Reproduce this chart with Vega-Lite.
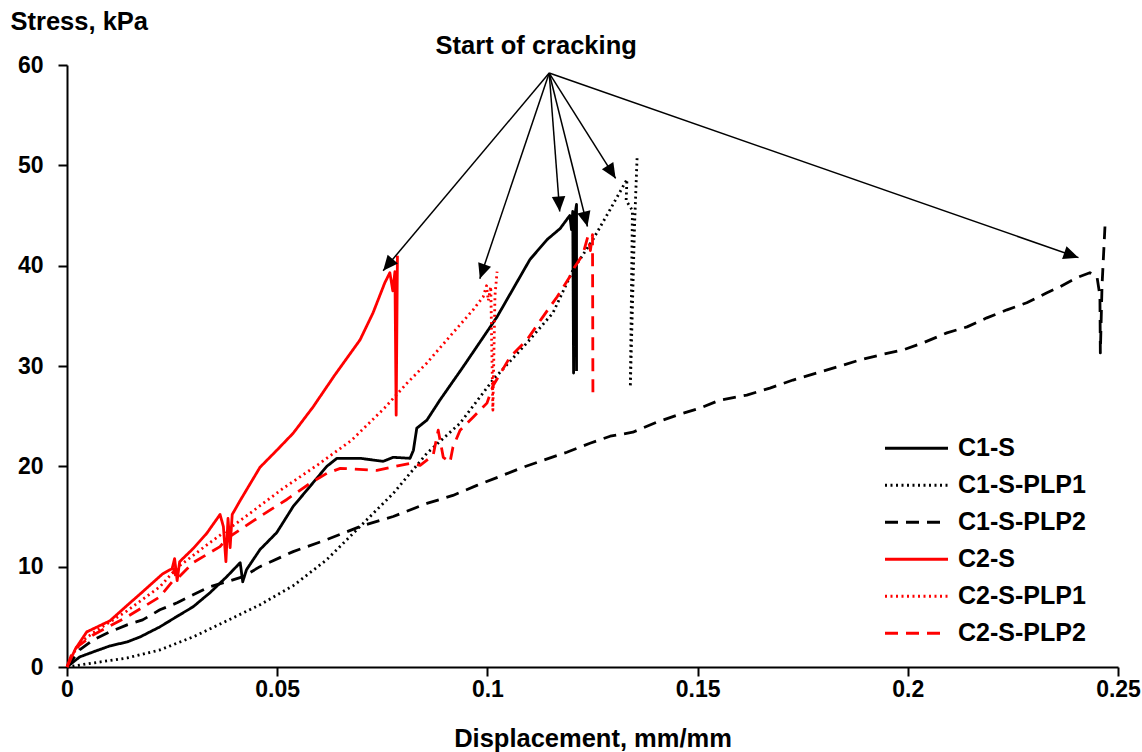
{
  "$schema": "https://vega.github.io/schema/vega-lite/v6.json",
  "width": 1051,
  "height": 602,
  "autosize": "none",
  "padding": {"left": 67, "top": 65, "right": 24, "bottom": 85},
  "background": "white",
  "config": {
    "view": {"stroke": null},
    "font": "Liberation Sans",
    "axis": {"grid": false, "labelFlush": false, "domainColor": "black", "domainWidth": 2, "tickColor": "black", "tickWidth": 2, "tickSize": 9, "labelFont": "Liberation Sans", "labelFontWeight": "bold", "labelFontSize": 23, "labelColor": "black", "titleFont": "Liberation Sans", "titleFontWeight": "bold", "titleFontSize": 25.5, "titleColor": "black"}
  },
  "datasets": {
    "curves": [
      {"s": "C1-S", "x": 0, "y": 0}, {"s": "C1-S", "x": 0.003, "y": 1.0}, {"s": "C1-S", "x": 0.0062, "y": 1.5}, {"s": "C1-S", "x": 0.0102, "y": 2.1}, {"s": "C1-S", "x": 0.0143, "y": 2.5}, {"s": "C1-S", "x": 0.0174, "y": 3.0}, {"s": "C1-S", "x": 0.0221, "y": 4.0}, {"s": "C1-S", "x": 0.026, "y": 5.0}, {"s": "C1-S", "x": 0.030, "y": 6.0}, {"s": "C1-S", "x": 0.034, "y": 7.4}, {"s": "C1-S", "x": 0.038, "y": 9.0}, {"s": "C1-S", "x": 0.0412, "y": 10.4}, {"s": "C1-S", "x": 0.0418, "y": 8.5}, {"s": "C1-S", "x": 0.0427, "y": 9.7}, {"s": "C1-S", "x": 0.0459, "y": 11.7}, {"s": "C1-S", "x": 0.0499, "y": 13.4}, {"s": "C1-S", "x": 0.0538, "y": 16.0}, {"s": "C1-S", "x": 0.0578, "y": 18.0}, {"s": "C1-S", "x": 0.0618, "y": 20.0}, {"s": "C1-S", "x": 0.0642, "y": 20.8}, {"s": "C1-S", "x": 0.0697, "y": 20.8}, {"s": "C1-S", "x": 0.0752, "y": 20.5}, {"s": "C1-S", "x": 0.0776, "y": 20.9}, {"s": "C1-S", "x": 0.0816, "y": 20.8}, {"s": "C1-S", "x": 0.0824, "y": 21.6}, {"s": "C1-S", "x": 0.0832, "y": 23.8}, {"s": "C1-S", "x": 0.0856, "y": 24.6}, {"s": "C1-S", "x": 0.0887, "y": 26.6}, {"s": "C1-S", "x": 0.0942, "y": 29.9}, {"s": "C1-S", "x": 0.1023, "y": 34.9}, {"s": "C1-S", "x": 0.1101, "y": 40.6}, {"s": "C1-S", "x": 0.1142, "y": 42.6}, {"s": "C1-S", "x": 0.1173, "y": 43.7}, {"s": "C1-S", "x": 0.1196, "y": 45.0}, {"s": "C1-S", "x": 0.1200, "y": 43.6}, {"s": "C1-S", "x": 0.1203, "y": 45.4}, {"s": "C1-S", "x": 0.1205, "y": 29.3}, {"s": "C1-S", "x": 0.1208, "y": 45.0}, {"s": "C1-S", "x": 0.1212, "y": 46.1}, {"s": "C1-S", "x": 0.1212, "y": 29.5},

      {"s": "C1-S-PLP1", "x": 0, "y": 0}, {"s": "C1-S-PLP1", "x": 0.0062, "y": 0.4}, {"s": "C1-S-PLP1", "x": 0.0143, "y": 0.9}, {"s": "C1-S-PLP1", "x": 0.0221, "y": 1.7}, {"s": "C1-S-PLP1", "x": 0.030, "y": 3.0}, {"s": "C1-S-PLP1", "x": 0.038, "y": 4.6}, {"s": "C1-S-PLP1", "x": 0.0459, "y": 6.2}, {"s": "C1-S-PLP1", "x": 0.0538, "y": 8.1}, {"s": "C1-S-PLP1", "x": 0.0618, "y": 10.7}, {"s": "C1-S-PLP1", "x": 0.0697, "y": 14.0}, {"s": "C1-S-PLP1", "x": 0.0776, "y": 17.3}, {"s": "C1-S-PLP1", "x": 0.0856, "y": 21.3}, {"s": "C1-S-PLP1", "x": 0.0935, "y": 24.3}, {"s": "C1-S-PLP1", "x": 0.1013, "y": 28.6}, {"s": "C1-S-PLP1", "x": 0.1094, "y": 32.3}, {"s": "C1-S-PLP1", "x": 0.1156, "y": 35.3}, {"s": "C1-S-PLP1", "x": 0.1204, "y": 39.6}, {"s": "C1-S-PLP1", "x": 0.1251, "y": 42.6}, {"s": "C1-S-PLP1", "x": 0.1292, "y": 45.6}, {"s": "C1-S-PLP1", "x": 0.1332, "y": 48.6}, {"s": "C1-S-PLP1", "x": 0.1330, "y": 46.5}, {"s": "C1-S-PLP1", "x": 0.1345, "y": 45.5}, {"s": "C1-S-PLP1", "x": 0.1340, "y": 27.9}, {"s": "C1-S-PLP1", "x": 0.1350, "y": 44.0}, {"s": "C1-S-PLP1", "x": 0.1356, "y": 50.7},

      {"s": "C1-S-PLP2", "x": 0, "y": 0}, {"s": "C1-S-PLP2", "x": 0.003, "y": 1.7}, {"s": "C1-S-PLP2", "x": 0.0062, "y": 2.7}, {"s": "C1-S-PLP2", "x": 0.0102, "y": 3.5}, {"s": "C1-S-PLP2", "x": 0.0143, "y": 4.2}, {"s": "C1-S-PLP2", "x": 0.018, "y": 4.7}, {"s": "C1-S-PLP2", "x": 0.0221, "y": 5.7}, {"s": "C1-S-PLP2", "x": 0.0262, "y": 6.4}, {"s": "C1-S-PLP2", "x": 0.030, "y": 7.2}, {"s": "C1-S-PLP2", "x": 0.034, "y": 8.0}, {"s": "C1-S-PLP2", "x": 0.038, "y": 8.5}, {"s": "C1-S-PLP2", "x": 0.0419, "y": 9.0}, {"s": "C1-S-PLP2", "x": 0.0459, "y": 10.0}, {"s": "C1-S-PLP2", "x": 0.0538, "y": 11.5}, {"s": "C1-S-PLP2", "x": 0.0618, "y": 12.7}, {"s": "C1-S-PLP2", "x": 0.0697, "y": 14.0}, {"s": "C1-S-PLP2", "x": 0.0776, "y": 15.0}, {"s": "C1-S-PLP2", "x": 0.0856, "y": 16.3}, {"s": "C1-S-PLP2", "x": 0.0918, "y": 17.1}, {"s": "C1-S-PLP2", "x": 0.0975, "y": 18.1}, {"s": "C1-S-PLP2", "x": 0.103, "y": 19.0}, {"s": "C1-S-PLP2", "x": 0.1078, "y": 19.8}, {"s": "C1-S-PLP2", "x": 0.1132, "y": 20.6}, {"s": "C1-S-PLP2", "x": 0.1189, "y": 21.4}, {"s": "C1-S-PLP2", "x": 0.1244, "y": 22.3}, {"s": "C1-S-PLP2", "x": 0.1292, "y": 23.0}, {"s": "C1-S-PLP2", "x": 0.1346, "y": 23.4}, {"s": "C1-S-PLP2", "x": 0.1403, "y": 24.4}, {"s": "C1-S-PLP2", "x": 0.1451, "y": 25.1}, {"s": "C1-S-PLP2", "x": 0.1506, "y": 25.8}, {"s": "C1-S-PLP2", "x": 0.1553, "y": 26.6}, {"s": "C1-S-PLP2", "x": 0.1617, "y": 27.1}, {"s": "C1-S-PLP2", "x": 0.1672, "y": 27.8}, {"s": "C1-S-PLP2", "x": 0.1727, "y": 28.6}, {"s": "C1-S-PLP2", "x": 0.180, "y": 29.5}, {"s": "C1-S-PLP2", "x": 0.1886, "y": 30.6}, {"s": "C1-S-PLP2", "x": 0.1934, "y": 31.1}, {"s": "C1-S-PLP2", "x": 0.1989, "y": 31.6}, {"s": "C1-S-PLP2", "x": 0.2036, "y": 32.3}, {"s": "C1-S-PLP2", "x": 0.2093, "y": 33.3}, {"s": "C1-S-PLP2", "x": 0.2141, "y": 33.9}, {"s": "C1-S-PLP2", "x": 0.2188, "y": 34.8}, {"s": "C1-S-PLP2", "x": 0.2236, "y": 35.6}, {"s": "C1-S-PLP2", "x": 0.2283, "y": 36.3}, {"s": "C1-S-PLP2", "x": 0.2331, "y": 37.3}, {"s": "C1-S-PLP2", "x": 0.2362, "y": 37.9}, {"s": "C1-S-PLP2", "x": 0.2402, "y": 38.8}, {"s": "C1-S-PLP2", "x": 0.2433, "y": 39.3}, {"s": "C1-S-PLP2", "x": 0.245, "y": 38.9}, {"s": "C1-S-PLP2", "x": 0.2457, "y": 37.0}, {"s": "C1-S-PLP2", "x": 0.2458, "y": 31.3}, {"s": "C1-S-PLP2", "x": 0.2462, "y": 38.0}, {"s": "C1-S-PLP2", "x": 0.2469, "y": 43.9},

      {"s": "C2-S", "x": 0, "y": 0}, {"s": "C2-S", "x": 0.002, "y": 1.8}, {"s": "C2-S", "x": 0.0047, "y": 3.5}, {"s": "C2-S", "x": 0.0102, "y": 4.6}, {"s": "C2-S", "x": 0.0142, "y": 6.1}, {"s": "C2-S", "x": 0.018, "y": 7.5}, {"s": "C2-S", "x": 0.0228, "y": 9.3}, {"s": "C2-S", "x": 0.025, "y": 9.8}, {"s": "C2-S", "x": 0.0256, "y": 10.8}, {"s": "C2-S", "x": 0.0262, "y": 8.6}, {"s": "C2-S", "x": 0.0268, "y": 10.5}, {"s": "C2-S", "x": 0.030, "y": 11.8}, {"s": "C2-S", "x": 0.0332, "y": 13.3}, {"s": "C2-S", "x": 0.0364, "y": 15.2}, {"s": "C2-S", "x": 0.0372, "y": 14.0}, {"s": "C2-S", "x": 0.0378, "y": 10.5}, {"s": "C2-S", "x": 0.0383, "y": 14.8}, {"s": "C2-S", "x": 0.0388, "y": 11.9}, {"s": "C2-S", "x": 0.0393, "y": 15.2}, {"s": "C2-S", "x": 0.0412, "y": 16.6}, {"s": "C2-S", "x": 0.0459, "y": 19.9}, {"s": "C2-S", "x": 0.0499, "y": 21.6}, {"s": "C2-S", "x": 0.0538, "y": 23.3}, {"s": "C2-S", "x": 0.0585, "y": 25.9}, {"s": "C2-S", "x": 0.0637, "y": 29.1}, {"s": "C2-S", "x": 0.0697, "y": 32.6}, {"s": "C2-S", "x": 0.0728, "y": 35.3}, {"s": "C2-S", "x": 0.0756, "y": 38.3}, {"s": "C2-S", "x": 0.0768, "y": 39.3}, {"s": "C2-S", "x": 0.0775, "y": 37.5}, {"s": "C2-S", "x": 0.078, "y": 39.4}, {"s": "C2-S", "x": 0.0783, "y": 25.1}, {"s": "C2-S", "x": 0.0786, "y": 41.0},

      {"s": "C2-S-PLP1", "x": 0, "y": 0}, {"s": "C2-S-PLP1", "x": 0.0015, "y": 1.4}, {"s": "C2-S-PLP1", "x": 0.004, "y": 2.7}, {"s": "C2-S-PLP1", "x": 0.0062, "y": 3.4}, {"s": "C2-S-PLP1", "x": 0.0143, "y": 5.6}, {"s": "C2-S-PLP1", "x": 0.0221, "y": 8.0}, {"s": "C2-S-PLP1", "x": 0.0262, "y": 9.9}, {"s": "C2-S-PLP1", "x": 0.034, "y": 12.4}, {"s": "C2-S-PLP1", "x": 0.0425, "y": 15.0}, {"s": "C2-S-PLP1", "x": 0.0514, "y": 17.8}, {"s": "C2-S-PLP1", "x": 0.0598, "y": 20.2}, {"s": "C2-S-PLP1", "x": 0.0677, "y": 22.6}, {"s": "C2-S-PLP1", "x": 0.0755, "y": 25.8}, {"s": "C2-S-PLP1", "x": 0.0809, "y": 28.3}, {"s": "C2-S-PLP1", "x": 0.0856, "y": 30.3}, {"s": "C2-S-PLP1", "x": 0.0918, "y": 33.3}, {"s": "C2-S-PLP1", "x": 0.0966, "y": 35.6}, {"s": "C2-S-PLP1", "x": 0.099, "y": 36.9}, {"s": "C2-S-PLP1", "x": 0.0998, "y": 38.0}, {"s": "C2-S-PLP1", "x": 0.1002, "y": 36.5}, {"s": "C2-S-PLP1", "x": 0.1008, "y": 37.9}, {"s": "C2-S-PLP1", "x": 0.1013, "y": 25.6}, {"s": "C2-S-PLP1", "x": 0.1018, "y": 37.0}, {"s": "C2-S-PLP1", "x": 0.1023, "y": 39.4},

      {"s": "C2-S-PLP2", "x": 0, "y": 0}, {"s": "C2-S-PLP2", "x": 0.0015, "y": 1.7}, {"s": "C2-S-PLP2", "x": 0.0062, "y": 3.2}, {"s": "C2-S-PLP2", "x": 0.0143, "y": 5.0}, {"s": "C2-S-PLP2", "x": 0.019, "y": 6.2}, {"s": "C2-S-PLP2", "x": 0.0221, "y": 7.0}, {"s": "C2-S-PLP2", "x": 0.025, "y": 8.5}, {"s": "C2-S-PLP2", "x": 0.0255, "y": 9.8}, {"s": "C2-S-PLP2", "x": 0.026, "y": 8.7}, {"s": "C2-S-PLP2", "x": 0.030, "y": 10.4}, {"s": "C2-S-PLP2", "x": 0.0364, "y": 12.0}, {"s": "C2-S-PLP2", "x": 0.038, "y": 12.8}, {"s": "C2-S-PLP2", "x": 0.0412, "y": 13.7}, {"s": "C2-S-PLP2", "x": 0.0459, "y": 15.0}, {"s": "C2-S-PLP2", "x": 0.0523, "y": 16.7}, {"s": "C2-S-PLP2", "x": 0.0578, "y": 18.3}, {"s": "C2-S-PLP2", "x": 0.0618, "y": 19.3}, {"s": "C2-S-PLP2", "x": 0.065, "y": 19.8}, {"s": "C2-S-PLP2", "x": 0.0737, "y": 19.6}, {"s": "C2-S-PLP2", "x": 0.0816, "y": 20.3}, {"s": "C2-S-PLP2", "x": 0.084, "y": 20.1}, {"s": "C2-S-PLP2", "x": 0.0871, "y": 21.1}, {"s": "C2-S-PLP2", "x": 0.0883, "y": 23.6}, {"s": "C2-S-PLP2", "x": 0.0895, "y": 20.9}, {"s": "C2-S-PLP2", "x": 0.0911, "y": 20.4}, {"s": "C2-S-PLP2", "x": 0.0918, "y": 21.9}, {"s": "C2-S-PLP2", "x": 0.0935, "y": 23.6}, {"s": "C2-S-PLP2", "x": 0.0966, "y": 24.9}, {"s": "C2-S-PLP2", "x": 0.0999, "y": 26.3}, {"s": "C2-S-PLP2", "x": 0.1013, "y": 28.0}, {"s": "C2-S-PLP2", "x": 0.1054, "y": 30.9}, {"s": "C2-S-PLP2", "x": 0.1094, "y": 32.6}, {"s": "C2-S-PLP2", "x": 0.1132, "y": 34.9}, {"s": "C2-S-PLP2", "x": 0.1166, "y": 36.9}, {"s": "C2-S-PLP2", "x": 0.1196, "y": 38.9}, {"s": "C2-S-PLP2", "x": 0.1208, "y": 39.9}, {"s": "C2-S-PLP2", "x": 0.1227, "y": 41.1}, {"s": "C2-S-PLP2", "x": 0.1239, "y": 42.9}, {"s": "C2-S-PLP2", "x": 0.1245, "y": 41.5}, {"s": "C2-S-PLP2", "x": 0.125, "y": 43.1}, {"s": "C2-S-PLP2", "x": 0.1251, "y": 27.3}
    ],
    "arrows": [
      {"x0": 0.1147, "y0": 59.2, "x": 0.0752, "y": 39.5},
      {"x0": 0.1147, "y0": 59.2, "x": 0.0982, "y": 38.7},
      {"x0": 0.1147, "y0": 59.2, "x": 0.1172, "y": 45.4},
      {"x0": 0.1147, "y0": 59.2, "x": 0.1238, "y": 43.9},
      {"x0": 0.1147, "y0": 59.2, "x": 0.1305, "y": 48.7},
      {"x0": 0.1147, "y0": 59.2, "x": 0.2406, "y": 40.8}
    ],
    "notes": [
      {"x": 0.1116, "y": 61.9, "label": "Start of cracking"}
    ]
  },
  "layer": [
    {
      "data": {"name": "curves"},
      "mark": {"type": "line", "strokeWidth": 2.8, "strokeJoin": "round"},
      "encoding": {
        "x": {"field": "x", "type": "quantitative", "scale": {"domain": [0, 0.25], "nice": false, "zero": false},
          "axis": {"values": [0, 0.05, 0.1, 0.15, 0.2, 0.25], "format": ".2~f", "labelPadding": 2, "labelFlush": false, "title": "Displacement, mm/mm", "titleY": 79, "titleBaseline": "alphabetic"}},
        "y": {"field": "y", "type": "quantitative", "scale": {"domain": [0, 60], "nice": false},
          "axis": {"values": [0, 10, 20, 30, 40, 50, 60], "labelPadding": 15, "labelFlush": false, "title": "Stress, kPa", "titleAngle": 0, "titleX": -57, "titleY": -36, "titleAlign": "left", "titleBaseline": "alphabetic"}},
        "color": {"field": "s", "type": "nominal",
          "scale": {"domain": ["C1-S", "C1-S-PLP1", "C1-S-PLP2", "C2-S", "C2-S-PLP1", "C2-S-PLP2"], "range": ["#000000", "#000000", "#000000", "#ff0000", "#ff0000", "#ff0000"]},
          "legend": {"title": null, "orient": "none", "legendX": 816.5, "legendY": 365, "symbolType": "stroke", "symbolSize": 3969, "symbolStrokeWidth": 3, "clipHeight": 36.4, "rowPadding": 0, "padding": 0, "labelOffset": 8.5, "labelFont": "Liberation Sans", "labelFontWeight": "bold", "labelFontSize": 25, "labelColor": "black"}},
        "strokeDash": {"field": "s", "type": "nominal",
          "scale": {"domain": ["C1-S", "C1-S-PLP1", "C1-S-PLP2", "C2-S", "C2-S-PLP1", "C2-S-PLP2"], "range": [[1, 0], [2, 3.5], [13, 8], [1, 0], [2, 3.5], [13, 8]]},
          "legend": {"title": null, "orient": "none", "legendX": 816.5, "legendY": 365, "symbolType": "stroke", "symbolSize": 3969, "symbolStrokeWidth": 3, "clipHeight": 36.4, "rowPadding": 0, "padding": 0, "labelOffset": 8.5, "labelFont": "Liberation Sans", "labelFontWeight": "bold", "labelFontSize": 25, "labelColor": "black"}},
        "order": {"value": null}
      }
    },
    {
      "data": {"name": "arrows"},
      "mark": {"type": "rule", "color": "black", "strokeWidth": 1.5},
      "encoding": {
        "x": {"field": "x0", "type": "quantitative"},
        "y": {"field": "y0", "type": "quantitative"},
        "x2": {"field": "x"},
        "y2": {"field": "y"}
      }
    },
    {
      "data": {"name": "arrows"},
      "transform": [
        {"calculate": "atan2((datum.x - datum.x0) / 0.25 * width, (datum.y - datum.y0) / 60 * height) * 180 / PI", "as": "heading"}
      ],
      "mark": {"type": "point", "shape": "M0,0L-0.45,1L0.45,1Z", "filled": true, "color": "black", "opacity": 1, "size": 900, "strokeWidth": 0},
      "encoding": {
        "x": {"field": "x", "type": "quantitative"},
        "y": {"field": "y", "type": "quantitative"},
        "angle": {"field": "heading", "type": "quantitative", "scale": null}
      }
    },
    {
      "data": {"name": "notes"},
      "mark": {"type": "text", "font": "Liberation Sans", "fontWeight": "bold", "fontSize": 25.5, "color": "black", "align": "center", "baseline": "middle"},
      "encoding": {
        "x": {"field": "x", "type": "quantitative"},
        "y": {"field": "y", "type": "quantitative"},
        "text": {"field": "label"}
      }
    }
  ]
}
